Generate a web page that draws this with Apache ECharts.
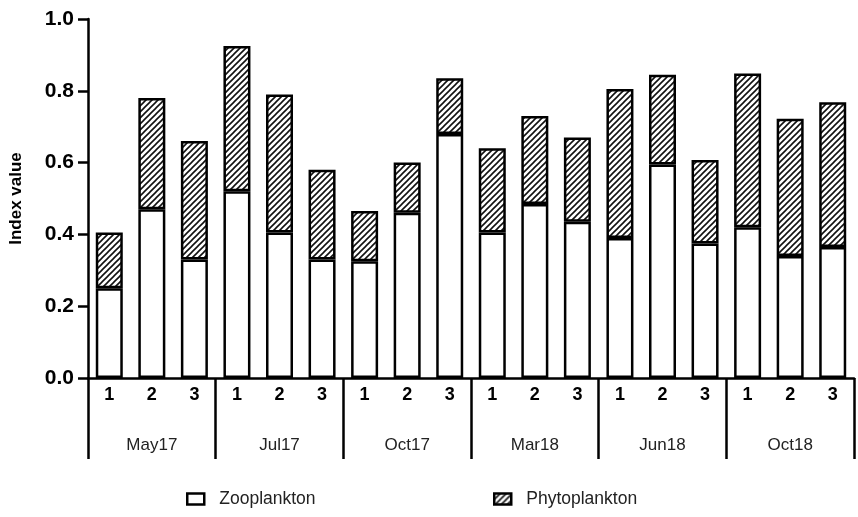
<!DOCTYPE html>
<html>
<head>
<meta charset="utf-8">
<script src="https://cdn.jsdelivr.net/npm/echarts@6/dist/echarts.min.js"></script>
<style>
  html, body { margin: 0; padding: 0; background: #fff; }
  #chart { width: 858px; height: 517px; }
</style>
</head>
<body>
<div id="chart"></div>
<script>
/* data */
var samples = ['1','2','3','1','2','3','1','2','3','1','2','3','1','2','3','1','2','3'];
var campaigns = ['May17', 'Jul17', 'Oct17', 'Mar18', 'Jun18', 'Oct18'];
var zooplankton = [0.25, 0.47, 0.33, 0.52, 0.405, 0.33, 0.325, 0.46, 0.68,
                   0.405, 0.485, 0.435, 0.39, 0.595, 0.375, 0.42, 0.34, 0.365];
var phytoplankton = [0.155, 0.31, 0.33, 0.405, 0.385, 0.25, 0.14, 0.14, 0.155,
                     0.235, 0.245, 0.235, 0.415, 0.25, 0.232, 0.428, 0.382, 0.403];

var font = 'Arial, "Liberation Sans", sans-serif';

/* hatch pattern "////" */
function makeHatch() {
    var c = document.createElement('canvas');
    var s = 6;
    c.width = s; c.height = s;
    var ctx = c.getContext('2d');
    ctx.fillStyle = '#fff';
    ctx.fillRect(0, 0, s, s);
    ctx.strokeStyle = '#111';
    ctx.lineWidth = 1.6;
    ctx.beginPath();
    ctx.moveTo(-1, s + 1); ctx.lineTo(s + 1, -1);
    ctx.moveTo(-1, 1); ctx.lineTo(1, -1);
    ctx.moveTo(s - 1, s + 1); ctx.lineTo(s + 1, s - 1);
    ctx.stroke();
    return c;
}
var hatch = { image: makeHatch(), repeat: 'repeat' };

var legendBase = {
    top: 490,
    padding: 0,
    icon: 'rect',
    itemWidth: 17, itemHeight: 11,
    itemStyle: { borderColor: '#000', borderWidth: 2.5 },
    textStyle: { fontFamily: font, fontSize: 17.5, color: '#222', padding: [0, 0, 0, 10] }
};

var option = {
    backgroundColor: '#fff',
    animation: false,
    grid: { left: 87, right: 4, top: 19, bottom: 139 },
    legend: [
        Object.assign({ left: 186, data: ['Zooplankton'] }, legendBase),
        Object.assign({ left: 493, data: ['Phytoplankton'] }, legendBase)
    ],
    xAxis: [{
        type: 'category',
        data: samples,
        axisLine: { lineStyle: { color: '#000', width: 2.5 } },
        axisTick: { alignWithLabel: true, length: 10, lineStyle: { color: '#000', width: 2.5 } },
        axisLabel: { color: '#000', fontFamily: font, fontWeight: 'bold', fontSize: 18, margin: 8, interval: 0 }
    }, {
        type: 'category',
        data: campaigns,
        position: 'bottom',
        axisLine: { show: true, lineStyle: { color: 'rgba(0,0,0,0)', width: 0 } },
        axisTick: { show: true, interval: 0, length: 81, lineStyle: { color: '#000', width: 2.5 } },
        axisLabel: { color: '#222', fontFamily: font, fontSize: 17, margin: 59, interval: 0 }
    }],
    yAxis: {
        type: 'value',
        min: 0, max: 1, interval: 0.2,
        name: 'Index value',
        nameLocation: 'middle',
        nameGap: 63,
        nameTextStyle: { color: '#000', fontFamily: font, fontWeight: 'bold', fontSize: 17 },
        axisLine: { show: true, lineStyle: { color: '#000', width: 2.5 } },
        axisTick: { show: true, length: 10, lineStyle: { color: '#000', width: 2.5 } },
        splitLine: { show: false },
        axisLabel: {
            color: '#000', fontFamily: font, fontWeight: 'bold', fontSize: 21, margin: 14,
            formatter: function (v) { return v.toFixed(1); }
        }
    },
    series: [{
        name: 'Zooplankton',
        type: 'bar',
        stack: 'index',
        barWidth: 27,
        data: zooplankton,
        itemStyle: { color: '#fff', borderColor: '#000', borderWidth: 2.5 }
    }, {
        name: 'Phytoplankton',
        type: 'bar',
        stack: 'index',
        barWidth: 27,
        data: phytoplankton,
        itemStyle: { color: hatch, borderColor: '#000', borderWidth: 2.5 }
    }]
};

var chart = echarts.init(document.getElementById('chart'));
chart.setOption(option);
</script>
</body>
</html>
